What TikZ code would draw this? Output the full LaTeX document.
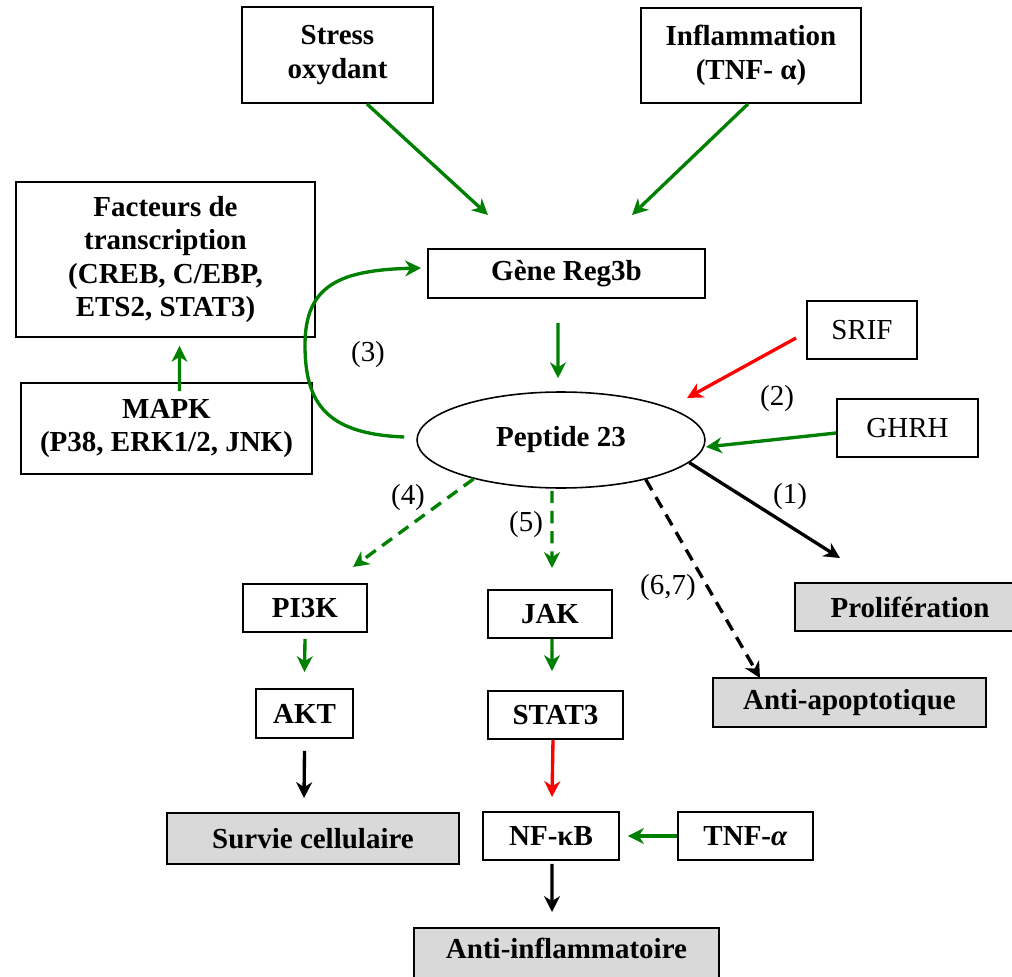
\documentclass[tikz,border=0pt]{standalone}
\usepackage{fontspec}
\setmainfont{Liberation Serif}
\usetikzlibrary{arrows.meta,shapes.geometric}
\definecolor{gr}{RGB}{0,128,0}
\definecolor{rd}{RGB}{255,0,0}
\definecolor{gy}{RGB}{217,217,217}
\begin{document}
\begin{tikzpicture}[x=0.02cm,y=-0.02cm,
  every node/.style={font=\fontsize{16.5}{19}\selectfont},
  bx/.style={draw,line width=1.1pt,align=center,inner sep=0pt,font=\fontsize{16.5}{19}\selectfont\bfseries},
  nbx/.style={draw,line width=1.1pt,align=center,inner sep=0pt},
  gbx/.style={bx,fill=gy},
  lbl/.style={inner sep=0pt},
  tip/.style={-{Stealth[length=9pt,width=9pt,inset=2.8pt]}},
  ga/.style={tip,draw=gr,line width=1.9pt},
  ra/.style={tip,draw=rd,line width=1.9pt},
  ka/.style={tip,draw=black,line width=1.9pt},
  dsh/.style={dash pattern=on 7pt off 4.5pt}
]
\useasboundingbox (0,0) rectangle (1012,977);
\clip (0,0) rectangle (1012,977);
\fill[white] (0,0) rectangle (1012,977);

% boxes
\node[bx,minimum width=3.82cm,minimum height=1.92cm] (stress) at (337.5,55) {Stress\\oxydant};
\node[bx,minimum width=4.4cm,minimum height=1.9cm] (inflam) at (751,55.5) {Inflammation\\(TNF- α)};
\node[bx,minimum width=5.98cm,minimum height=3.1cm] (fact) at (165.5,259.5) {Facteurs de\\transcription\\(CREB, C/EBP,\\ETS2, STAT3)};
\node[bx,minimum width=5.82cm,minimum height=1.82cm] (mapk) at (166.5,428.5) {MAPK\\(P38, ERK1/2, JNK)};
\node[bx,minimum width=5.54cm,minimum height=0.98cm] (gene) at (566.5,273.5) {Gène Reg3b};
\node[nbx,minimum width=2.2cm,minimum height=1.16cm] (srif) at (862,330) {SRIF};
\node[nbx,minimum width=2.82cm,minimum height=1.16cm] (ghrh) at (907.5,428) {GHRH};
\node[draw,ellipse,line width=0.9pt,inner sep=0pt,minimum width=5.76cm,minimum height=1.92cm,font=\fontsize{16.5}{19}\selectfont\bfseries] (pep) at (561,440) {Peptide 23};
\node[bx,minimum width=2.48cm,minimum height=0.96cm] (pi3k) at (305,608) {PI3K};
\node[bx,minimum width=2.48cm,minimum height=0.96cm] (jak) at (550,614) {JAK};
\node[bx,minimum width=1.94cm,minimum height=0.98cm] (akt) at (304.5,713.5) {AKT};
\node[bx,minimum width=2.7cm,minimum height=0.96cm] (stat) at (555.5,715) {STAT3};
\node[gbx,minimum width=5.84cm,minimum height=1.02cm] (survie) at (313,838.5) {Survie cellulaire};
\node[bx,minimum width=2.72cm,minimum height=0.96cm] (nfkb) at (551,836) {NF-κB};
\node[bx,minimum width=2.7cm,minimum height=0.96cm] (tnf) at (745.5,836) {TNF-\textit{α}};
\node[gbx,anchor=north,minimum width=6.1cm,text depth=26pt,inner ysep=5.5pt] (antiinf) at (566.5,927) {Anti-inflammatoire};
\node[gbx,minimum width=4.6cm,minimum height=0.96cm] (prolif) at (910,607) {Prolifération};
\node[gbx,minimum width=5.46cm,minimum height=0.98cm] (antiapo) at (849.5,702.5) {Anti-apoptotique};

% free arrow ends
\coordinate (t1) at (488,215);
\coordinate (t2) at (632,215);
\coordinate (t6) at (687,398);
\coordinate (t7) at (706,447);
\coordinate (t8) at (840,558);
\coordinate (t9) at (353,567);
\coordinate (t10) at (552,568);
\coordinate (t11) at (760,678);

% connectors
\draw[ga] ([xshift=0.59cm]stress.south) -- (t1);
\draw[ga] ([xshift=-0.06cm]inflam.south) -- (t2);
\draw[ga] ([xshift=0.26cm,yshift=-0.18cm]mapk.north) -- ([xshift=0.28cm,yshift=-0.16cm]fact.south);
\draw[ga] ([xshift=-0.24cm,yshift=0.06cm]pep.west) .. controls (328,434) and (305,405) .. (305,345)
   .. controls (305,285) and (340,270) .. ([xshift=-0.12cm,yshift=0.11cm]gene.west);
\draw[ga] ([xshift=-0.17cm,yshift=-0.48cm]gene.south) -- ([xshift=-0.06cm,yshift=0.26cm]pep.north);
\draw[ra] ([xshift=-0.2cm,yshift=-0.16cm]srif.west) -- (t6);
\draw[ga] ([yshift=-0.1cm]ghrh.west) -- (t7);
\draw[ka] (pep.-10) -- (t8);
\draw[ga,dsh] (pep.204) -- (t9);
\draw[ga,dsh] ([xshift=-0.18cm,yshift=-0.04cm]pep.south) -- (t10);
\draw[ka,dsh] (pep.-25) -- (t11);
\draw[ga] ([yshift=-0.12cm]pi3k.south) -- ([yshift=0.32cm]akt.north);
\draw[ga] ([xshift=0.04cm]jak.south) -- ([xshift=-0.07cm,yshift=0.38cm]stat.north);
\draw[ka] ([yshift=-0.24cm]akt.south) -- ([xshift=-0.18cm,yshift=0.28cm]survie.north);
\draw[ra] ([xshift=-0.05cm]stat.south) -- ([xshift=0.02cm,yshift=0.28cm]nfkb.north);
\draw[ga] (tnf.west) -- ([xshift=0.16cm]nfkb.east);
\draw[ka] ([xshift=0.02cm,yshift=-0.06cm]nfkb.south) -- ([xshift=-0.29cm,yshift=0.3cm]antiinf.north);

% labels
\node[lbl] (l3) at (368,355) {(3)};
\node[lbl] (l2) at (777,399) {(2)};
\node[lbl] (l1) at (790,497) {(1)};
\node[lbl] (l4) at (408,498) {(4)};
\node[lbl] (l5) at (526,525) {(5)};
\node[lbl] (l67) at (668,588) {(6,7)};
\end{tikzpicture}
\end{document}
